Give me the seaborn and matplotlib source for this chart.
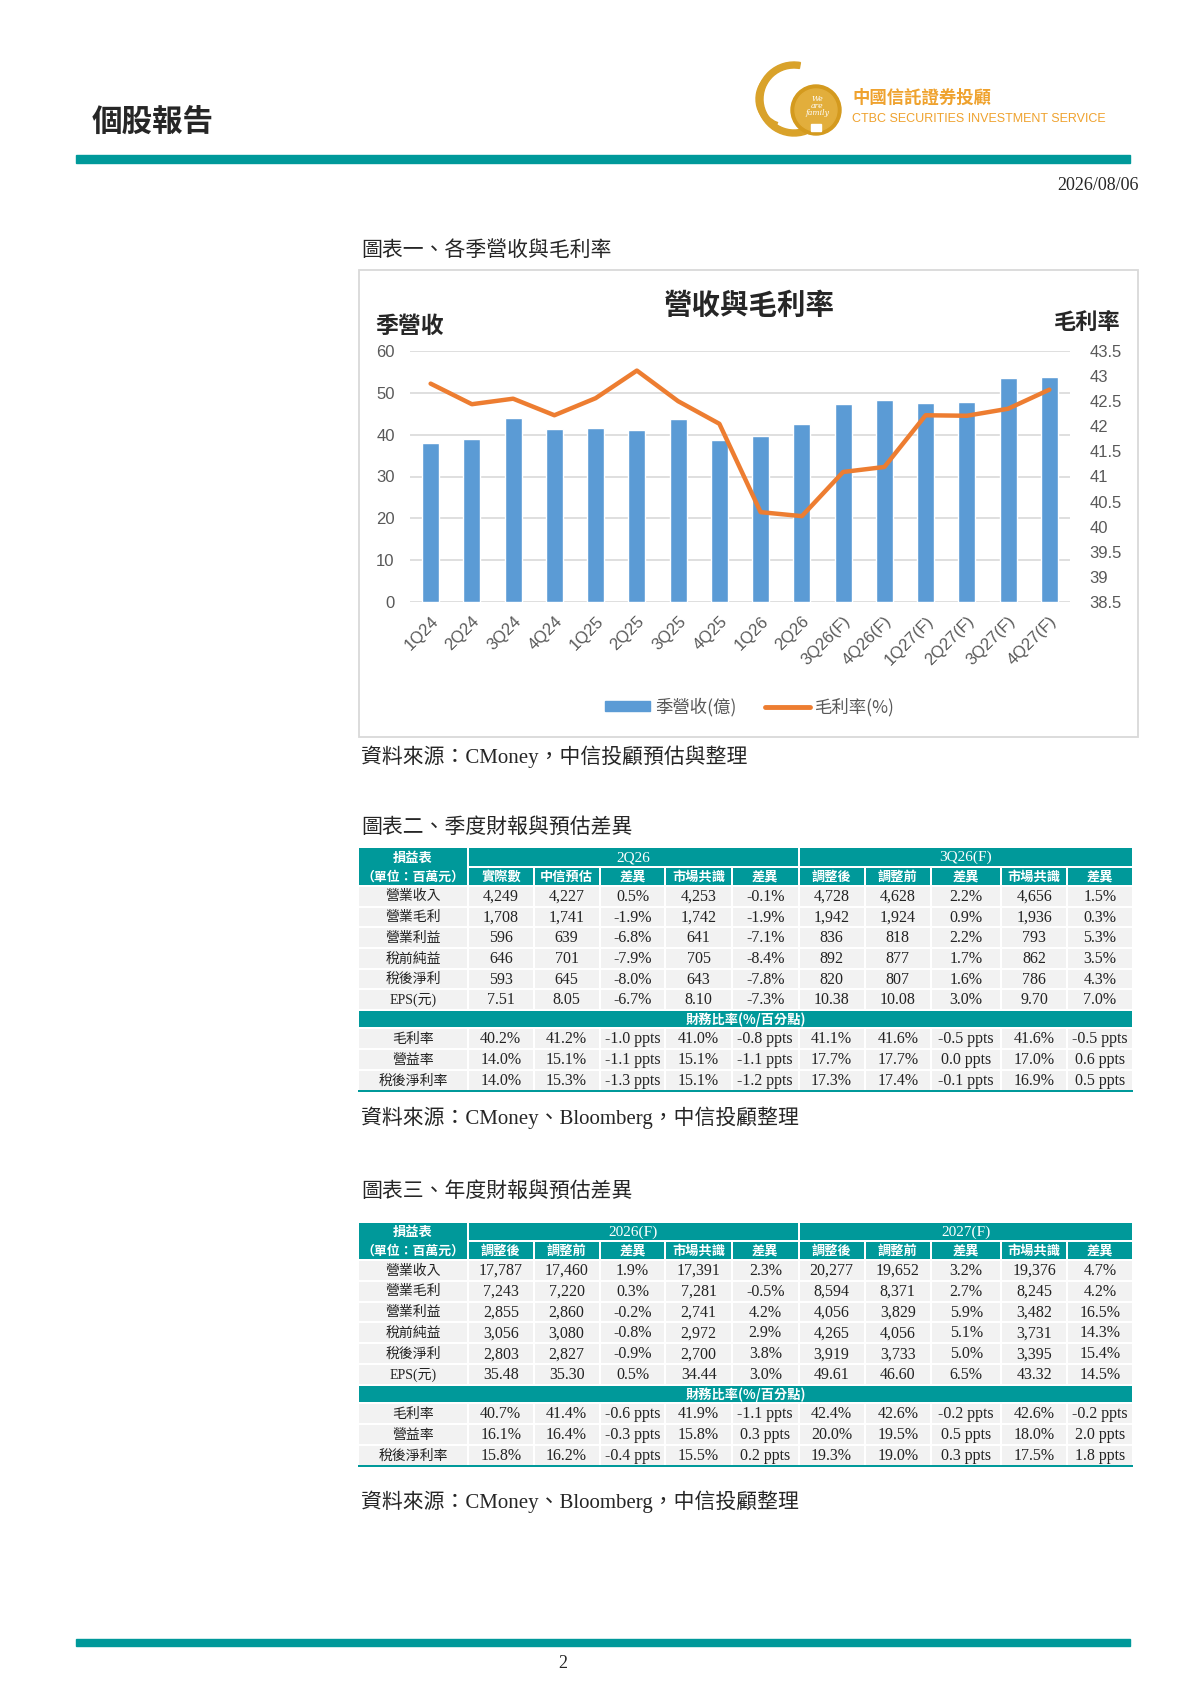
import matplotlib
matplotlib.use("Agg")
import matplotlib.pyplot as plt
import numpy as np
import pandas as pd
import seaborn as sns
from matplotlib.patches import Rectangle, Patch, Wedge, Circle
from matplotlib.lines import Line2D

sns.set_style("white")
plt.rcParams["font.family"] = ["Noto Sans CJK TC", "DejaVu Sans"]

# ---- chart data ----
quarters = ["1Q24", "2Q24", "3Q24", "4Q24", "1Q25", "2Q25", "3Q25", "4Q25",
            "1Q26", "2Q26", "3Q26(F)", "4Q26(F)", "1Q27(F)", "2Q27(F)", "3Q27(F)", "4Q27(F)"]
revenue = [38.1, 39.0, 44.1, 41.3, 41.6, 41.0, 43.7, 38.8,
           39.8, 42.5, 47.3, 48.3, 47.6, 47.8, 53.5, 53.9]
gross_margin = [42.85, 42.44, 42.55, 42.22, 42.56, 43.11, 42.50, 42.05,
                40.29, 40.21, 41.09, 41.19, 42.22, 42.21, 42.35, 42.73]

# ---- table data ----
row_labels = ["營業收入", "營業毛利", "營業利益", "稅前純益", "稅後淨利", "EPS(元)"]
ratio_labels = ["毛利率", "營益率", "稅後淨利率"]

q_periods = ["2Q26", "3Q26(F)"]
q_heads = ["實際數", "中信預估", "差異", "市場共識", "差異",
           "調整後", "調整前", "差異", "市場共識", "差異"]
q_values = [
    ["4,249", "4,227", "0.5%", "4,253", "-0.1%", "4,728", "4,628", "2.2%", "4,656", "1.5%"],
    ["1,708", "1,741", "-1.9%", "1,742", "-1.9%", "1,942", "1,924", "0.9%", "1,936", "0.3%"],
    ["596", "639", "-6.8%", "641", "-7.1%", "836", "818", "2.2%", "793", "5.3%"],
    ["646", "701", "-7.9%", "705", "-8.4%", "892", "877", "1.7%", "862", "3.5%"],
    ["593", "645", "-8.0%", "643", "-7.8%", "820", "807", "1.6%", "786", "4.3%"],
    ["7.51", "8.05", "-6.7%", "8.10", "-7.3%", "10.38", "10.08", "3.0%", "9.70", "7.0%"],
]
q_ratios = [
    ["40.2%", "41.2%", "-1.0 ppts", "41.0%", "-0.8 ppts", "41.1%", "41.6%", "-0.5 ppts", "41.6%", "-0.5 ppts"],
    ["14.0%", "15.1%", "-1.1 ppts", "15.1%", "-1.1 ppts", "17.7%", "17.7%", "0.0 ppts", "17.0%", "0.6 ppts"],
    ["14.0%", "15.3%", "-1.3 ppts", "15.1%", "-1.2 ppts", "17.3%", "17.4%", "-0.1 ppts", "16.9%", "0.5 ppts"],
]

y_periods = ["2026(F)", "2027(F)"]
y_heads = ["調整後", "調整前", "差異", "市場共識", "差異",
           "調整後", "調整前", "差異", "市場共識", "差異"]
y_values = [
    ["17,787", "17,460", "1.9%", "17,391", "2.3%", "20,277", "19,652", "3.2%", "19,376", "4.7%"],
    ["7,243", "7,220", "0.3%", "7,281", "-0.5%", "8,594", "8,371", "2.7%", "8,245", "4.2%"],
    ["2,855", "2,860", "-0.2%", "2,741", "4.2%", "4,056", "3,829", "5.9%", "3,482", "16.5%"],
    ["3,056", "3,080", "-0.8%", "2,972", "2.9%", "4,265", "4,056", "5.1%", "3,731", "14.3%"],
    ["2,803", "2,827", "-0.9%", "2,700", "3.8%", "3,919", "3,733", "5.0%", "3,395", "15.4%"],
    ["35.48", "35.30", "0.5%", "34.44", "3.0%", "49.61", "46.60", "6.5%", "43.32", "14.5%"],
]
y_ratios = [
    ["40.7%", "41.4%", "-0.6 ppts", "41.9%", "-1.1 ppts", "42.4%", "42.6%", "-0.2 ppts", "42.6%", "-0.2 ppts"],
    ["16.1%", "16.4%", "-0.3 ppts", "15.8%", "0.3 ppts", "20.0%", "19.5%", "0.5 ppts", "18.0%", "2.0 ppts"],
    ["15.8%", "16.2%", "-0.4 ppts", "15.5%", "0.2 ppts", "19.3%", "19.0%", "0.3 ppts", "17.5%", "1.8 ppts"],
]

TEAL = "#00999A"
BLUE = "#5B9BD5"
ORANGE = "#ED7D31"
GOLD = "#EFA22E"
GREY_TXT = "#595959"
CJK = "Noto Sans CJK TC"
MIX = ["Liberation Serif", "Noto Sans CJK TC"]
TICKF = ["Liberation Sans", "DejaVu Sans"]

W, H = 1191, 1684
fig = plt.figure(figsize=(W / 100, H / 100), dpi=100)


def fx(x):
    return x / W


def fy(y):
    return 1 - y / H


def box(x0, y0, x1, y1):
    return [fx(x0), fy(y1), (x1 - x0) / W, (y1 - y0) / H]


# ---- page header ----
fig.text(fx(92), fy(123), "個股報告", fontsize=22, fontweight="bold", family=CJK,
         ha="left", va="center")
fig.patches.append(Rectangle((fx(76), fy(163)), fx(1130) - fx(76), 8 / H,
                             transform=fig.transFigure, color=TEAL, zorder=1))
fig.text(fx(1139), fy(185), "2026/08/06", fontsize=13, family=MIX, ha="right", va="center")

# logo
lax = fig.add_axes(box(740, 55, 1140, 145))
lax.set_xlim(740, 1140)
lax.set_ylim(-145, -55)
lax.axis("off")
lax.add_patch(Wedge((794, -99), 37, 80, 290, width=6, color="#D9A22A"))
lax.add_patch(Wedge((786, -99), 30, 140, 250, width=5, color="#D9A22A"))
lax.add_patch(Circle((816, -110), 25, color="#D49A1E"))
lax.add_patch(Circle((816, -110), 21, color="#E2AE3C"))
lax.text(817, -106, "We\nare\nfamily", color="white", fontsize=5.5, style="italic",
         family="DejaVu Serif", ha="center", va="center", linespacing=0.9)
lax.add_patch(Rectangle((811, -131), 10, 7, color="white"))
lax.text(852, -98, "中國信託證券投顧", color=GOLD, fontsize=12.5, family=CJK,
         fontweight="bold", ha="left", va="center")
lax.text(852, -119, "CTBC SECURITIES INVESTMENT SERVICE", color=GOLD, fontsize=9,
         family=["Liberation Sans Narrow", "Liberation Sans"], ha="left", va="center")

# ---- figure 1 ----
fig.text(fx(361), fy(250), "圖表一、各季營收與毛利率", fontsize=15, family=CJK,
         ha="left", va="center")
fig.patches.append(Rectangle((fx(359), fy(737)), fx(1138) - fx(359), (737 - 270) / H,
                             transform=fig.transFigure, fill=False, edgecolor="#D9D9D9",
                             lw=1.3, zorder=1))
fig.text(fx(749), fy(306), "營收與毛利率", fontsize=20.5, fontweight="bold", family=CJK,
         ha="center", va="center")
fig.text(fx(375), fy(326), "季營收", fontsize=16.5, fontweight="bold", family=CJK,
         ha="left", va="center")
fig.text(fx(1121), fy(322), "毛利率", fontsize=16, fontweight="bold", family=CJK,
         ha="right", va="center")

ax = fig.add_axes(box(410, 351, 1070, 602))
df = pd.DataFrame({"quarter": quarters, "revenue": revenue, "margin": gross_margin})
sns.barplot(data=df, x="quarter", y="revenue", color=BLUE, saturation=1, width=0.41, ax=ax)
ax.set_ylim(0, 60)
ax.set_yticks(np.arange(0, 61, 10))
ax.yaxis.grid(True, color="#D9D9D9", lw=1.2)
ax.set_axisbelow(True)
for s in ax.spines.values():
    s.set_visible(False)
ax.set_xlabel("")
ax.set_ylabel("")
ax.tick_params(axis="y", length=0, pad=11, labelsize=12, labelcolor=GREY_TXT)
ax.tick_params(axis="x", length=0, pad=8, labelsize=12, labelcolor=GREY_TXT)
for lab in ax.get_yticklabels():
    lab.set_family(TICKF)
plt.setp(ax.get_xticklabels(), rotation=45, ha="right", rotation_mode="anchor", family=TICKF)

ax2 = ax.twinx()
sns.lineplot(x=np.arange(len(quarters)), y=df["margin"], color=ORANGE, lw=3.2, ax=ax2)
ax2.set_ylim(38.5, 43.5)
ticks2 = np.arange(38.5, 43.51, 0.5)
ax2.set_yticks(ticks2)
ax2.set_yticklabels([f"{t:g}" for t in ticks2], family=TICKF)
ax2.tick_params(axis="y", length=0, pad=14, labelsize=12, labelcolor=GREY_TXT)
ax2.set_ylabel("")
ax2.grid(False)
for s in ax2.spines.values():
    s.set_visible(False)
ax.set_xlim(-0.5, len(quarters) - 0.5)

handles = [Patch(color=BLUE), Line2D([], [], color=ORANGE, lw=3.5)]
fig.legend(handles, ["季營收(億)", "毛利率(%)"], loc="center", bbox_to_anchor=(fx(750), fy(707)),
           ncol=2, frameon=False, handlelength=2.6, handleheight=0.5, handletextpad=0.3,
           columnspacing=1.6, prop={"family": CJK, "size": 12.5}, labelcolor=GREY_TXT)

fig.text(fx(361), fy(757), "資料來源：CMoney，中信投顧預估與整理", fontsize=15, family=MIX,
         ha="left", va="center")

# ---- tables ----
col_w = [110, 65.6, 66, 65.7, 66.7, 66.6, 66, 66.4, 70.3, 65.7, 66]
x_edges = np.concatenate([[0], np.cumsum(col_w)])
TW = x_edges[-1]


def draw_table(top, periods, heads, values, ratios, head_h, data_h):
    heights = head_h + [data_h] * len(values) + [18] + [21] * len(ratios)
    y_edges = np.concatenate([[0], np.cumsum(heights)])
    TH = y_edges[-1]
    tax = fig.add_axes(box(358, top, 358 + TW, top + TH))
    tax.set_xlim(0, TW)
    tax.set_ylim(TH, 0)
    tax.axis("off")
    g = 1.0

    def cell(c0, c1, r0, r1, fc):
        tax.add_patch(Rectangle((x_edges[c0] + g, y_edges[r0] + g),
                                x_edges[c1] - x_edges[c0] - 2 * g,
                                y_edges[r1] - y_edges[r0] - 2 * g, color=fc, lw=0))

    def txt(c0, c1, r, s, **kw):
        tax.text((x_edges[c0] + x_edges[c1]) / 2, (y_edges[r] + y_edges[r + 1]) / 2 + 0.5, s,
                 ha="center", va="center", **kw)

    # header
    cell(0, 1, 0, 2, TEAL)
    txt(0, 1, 0, "損益表", color="white", fontsize=9.5, fontweight="bold", family=CJK)
    txt(0, 1, 1, "（單位：百萬元）", color="white", fontsize=9.3, fontweight="bold", family=CJK)
    for i, p in enumerate(periods):
        cell(1 + 5 * i, 6 + 5 * i, 0, 1, TEAL)
        txt(1 + 5 * i, 6 + 5 * i, 0, p, color="white", fontsize=11, family=MIX)
    for j, h in enumerate(heads):
        cell(j + 1, j + 2, 1, 2, TEAL)
        txt(j + 1, j + 2, 1, h, color="white", fontsize=9.5, fontweight="bold", family=CJK)
    # body
    for i, row in enumerate(values):
        r = 2 + i
        cell(0, 1, r, r + 1, "#F2F2F2")
        txt(0, 1, r, row_labels[i], color="#222222", fontsize=10, family=MIX)
        for j, v in enumerate(row):
            cell(j + 1, j + 2, r, r + 1, "#F2F2F2")
            txt(j + 1, j + 2, r, v, color="#222222", fontsize=11.5, family=MIX)
    rs = 2 + len(values)
    cell(0, len(col_w), rs, rs + 1, TEAL)
    txt(0, len(col_w), rs, "財務比率(%/百分點)", color="white", fontsize=9.5, fontweight="bold",
        family=CJK)
    for i, row in enumerate(ratios):
        r = rs + 1 + i
        cell(0, 1, r, r + 1, "#F2F2F2")
        txt(0, 1, r, ratio_labels[i], color="#222222", fontsize=10, family=CJK)
        for j, v in enumerate(row):
            cell(j + 1, j + 2, r, r + 1, "#F2F2F2")
            txt(j + 1, j + 2, r, v, color="#222222", fontsize=11.5, family=MIX)
    tax.add_patch(Rectangle((0, TH - 1.2), TW, 2.4, color=TEAL, lw=0, clip_on=False))


fig.text(fx(361), fy(827), "圖表二、季度財報與預估差異", fontsize=15, family=CJK,
         ha="left", va="center")
draw_table(847, q_periods, q_heads, q_values, q_ratios, [20, 19], 20.67)
fig.text(fx(361), fy(1118), "資料來源：CMoney、Bloomberg，中信投顧整理", fontsize=15,
         family=MIX, ha="left", va="center")

fig.text(fx(361), fy(1191), "圖表三、年度財報與預估差異", fontsize=15, family=CJK,
         ha="left", va="center")
draw_table(1222, y_periods, y_heads, y_values, y_ratios, [19, 19], 20.83)
fig.text(fx(361), fy(1502), "資料來源：CMoney、Bloomberg，中信投顧整理", fontsize=15,
         family=MIX, ha="left", va="center")

# ---- footer ----
fig.patches.append(Rectangle((fx(76), fy(1646)), fx(1130) - fx(76), 7 / H,
                             transform=fig.transFigure, color=TEAL, zorder=1))
fig.text(fx(563), fy(1664), "2", fontsize=13, family=MIX, ha="center", va="center")

fig.savefig("out.png", dpi=100)
